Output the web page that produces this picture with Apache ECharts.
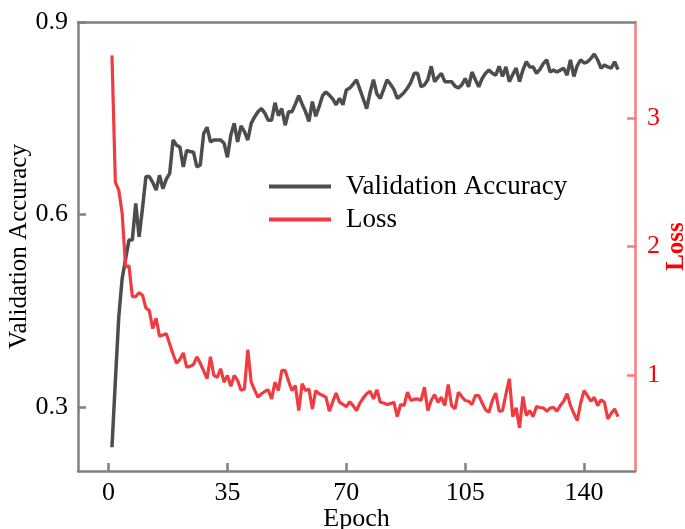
<!DOCTYPE html>
<html><head><meta charset="utf-8">
<script src="https://cdn.jsdelivr.net/npm/echarts@6/dist/echarts.min.js"></script>
<style>html,body{margin:0;padding:0;background:#fff}#c{width:685px;height:529px}</style>
</head><body><div id="c"></div>
<script>
const epochs = Array.from({length:150},(_,i)=>i+1);
const accuracy = [0.237,0.34,0.44,0.50,0.53,0.56,0.56,0.617,0.565,0.61,
0.659,0.659,0.65,0.638,0.661,0.64,0.655,0.664,0.716,0.708,
0.705,0.674,0.70,0.698,0.697,0.674,0.677,0.726,0.736,0.713,
0.716,0.716,0.716,0.711,0.689,0.724,0.742,0.713,0.738,0.729,
0.716,0.742,0.752,0.76,0.765,0.758,0.747,0.747,0.774,0.754,
0.765,0.739,0.76,0.76,0.772,0.785,0.772,0.76,0.745,0.776,
0.753,0.768,0.785,0.791,0.786,0.78,0.771,0.781,0.771,0.794,
0.797,0.803,0.81,0.795,0.78,0.765,0.79,0.81,0.788,0.781,
0.795,0.81,0.803,0.795,0.781,0.785,0.79,0.797,0.806,0.82,
0.82,0.799,0.802,0.81,0.831,0.807,0.814,0.82,0.807,0.807,
0.807,0.8,0.797,0.802,0.812,0.799,0.822,0.81,0.799,0.812,
0.82,0.825,0.82,0.817,0.831,0.815,0.83,0.807,0.818,0.828,
0.807,0.825,0.838,0.83,0.83,0.82,0.826,0.835,0.841,0.822,
0.825,0.822,0.825,0.828,0.817,0.841,0.815,0.832,0.841,0.836,
0.838,0.843,0.85,0.841,0.828,0.833,0.83,0.828,0.838,0.826];
const loss = [3.49,2.5,2.44,2.26,1.84,1.85,1.61,1.61,1.64,1.62,
1.52,1.5,1.36,1.44,1.30,1.31,1.32,1.24,1.16,1.09,
1.12,1.17,1.06,1.065,1.08,1.14,1.09,1.03,0.97,1.14,
0.995,0.98,1.047,0.942,0.995,0.91,0.995,0.956,0.88,0.89,
1.195,0.942,0.88,0.825,0.852,0.87,0.883,0.812,0.942,0.877,
1.034,1.034,0.95,0.877,0.916,0.721,0.93,0.877,0.89,0.734,
0.877,0.852,0.84,0.825,0.716,0.79,0.857,0.786,0.77,0.752,
0.79,0.76,0.721,0.78,0.82,0.852,0.872,0.812,0.883,0.786,
0.78,0.768,0.775,0.786,0.674,0.768,0.76,0.864,0.8,0.81,
0.812,0.8,0.903,0.721,0.8,0.846,0.786,0.825,0.76,0.924,
0.76,0.734,0.864,0.83,0.8,0.794,0.768,0.838,0.838,0.78,
0.727,0.708,0.8,0.857,0.716,0.721,0.85,0.969,0.674,0.742,
0.586,0.831,0.682,0.721,0.674,0.752,0.745,0.742,0.716,0.74,
0.747,0.716,0.76,0.794,0.852,0.76,0.7,0.643,0.78,0.877,
0.838,0.794,0.825,0.76,0.805,0.786,0.656,0.7,0.734,0.674];
const xTicks = [0,35,70,105,140];
const accTicks = [0.3,0.6,0.9];
const lossTicks = [1,2,3];

const FONT = 'Liberation Serif';
const GRAY = '#808080';
const PINK = '#ff7a7a';
const chart = echarts.init(document.getElementById('c'));
chart.setOption({
  animation:false,
  backgroundColor:'#fff',
  textStyle:{fontFamily:FONT},
  grid:{left:78,right:50,top:22,bottom:58,containLabel:false,outerBoundsMode:'none'},
  legend:{
    orient:'vertical',left:264,top:168,itemWidth:62,itemHeight:4,itemGap:6,icon:'rect',
    textStyle:{fontFamily:FONT,fontSize:27,color:'#000',padding:[0,0,0,10]},
    data:['Validation Accuracy','Loss']
  },
  xAxis:[{
    type:'value',min:-9,max:155,
    name:'Epoch',nameLocation:'middle',nameGap:35,nameMoveOverlap:false,
    nameTextStyle:{fontFamily:FONT,fontSize:26,color:'#000'},
    axisLine:{onZero:false,lineStyle:{color:GRAY,width:2.5}},
    axisTick:{show:true,inside:true,length:8,lineStyle:{color:GRAY,width:2.5},customValues:xTicks},
    axisLabel:{fontFamily:FONT,fontSize:26,color:'#000',margin:9,customValues:xTicks},
    splitLine:{show:false}
  },{
    type:'value',min:-9,max:155,position:'top',
    axisLine:{show:true,onZero:false,lineStyle:{color:GRAY,width:2.5}},
    axisTick:{show:false},axisLabel:{show:false},splitLine:{show:false}
  }],
  yAxis:[{
    type:'value',min:0.2,max:0.9,position:'left',
    name:'Validation Accuracy',nameLocation:'middle',nameGap:46,nameMoveOverlap:false,
    nameTextStyle:{fontFamily:FONT,fontSize:25,color:'#000'},
    axisLine:{show:true,onZero:false,lineStyle:{color:GRAY,width:2.5}},
    axisTick:{show:true,inside:true,length:8,lineStyle:{color:GRAY,width:2.5},customValues:accTicks},
    axisLabel:{fontFamily:FONT,fontSize:26,color:'#000',margin:10,customValues:accTicks,formatter:v=>v.toFixed(1)},
    splitLine:{show:false}
  },{
    type:'value',min:0.25,max:3.75,position:'right',
    name:'Loss',nameLocation:'middle',nameGap:29,nameMoveOverlap:false,
    nameTextStyle:{fontFamily:FONT,fontSize:25,color:'#ff0000',fontWeight:'bold'},
    axisLine:{show:true,onZero:false,lineStyle:{color:PINK,width:2.5}},
    axisTick:{show:true,inside:true,length:8,lineStyle:{color:PINK,width:2.5},customValues:lossTicks},
    axisLabel:{fontFamily:FONT,fontSize:26,color:'#ff0000',margin:12,customValues:lossTicks},
    splitLine:{show:false}
  }],
  series:[{
    name:'Validation Accuracy',type:'line',xAxisIndex:0,yAxisIndex:0,
    data:epochs.map((e,i)=>[e,accuracy[i]]),symbol:'none',
    lineStyle:{color:'#4d4d4d',width:3.5},itemStyle:{color:'#4d4d4d'}
  },{
    name:'Loss',type:'line',xAxisIndex:0,yAxisIndex:1,
    data:epochs.map((e,i)=>[e,loss[i]]),symbol:'none',
    lineStyle:{color:'#f03c40',width:3.2},itemStyle:{color:'#f03c40'}
  }]
});
</script></body></html>
